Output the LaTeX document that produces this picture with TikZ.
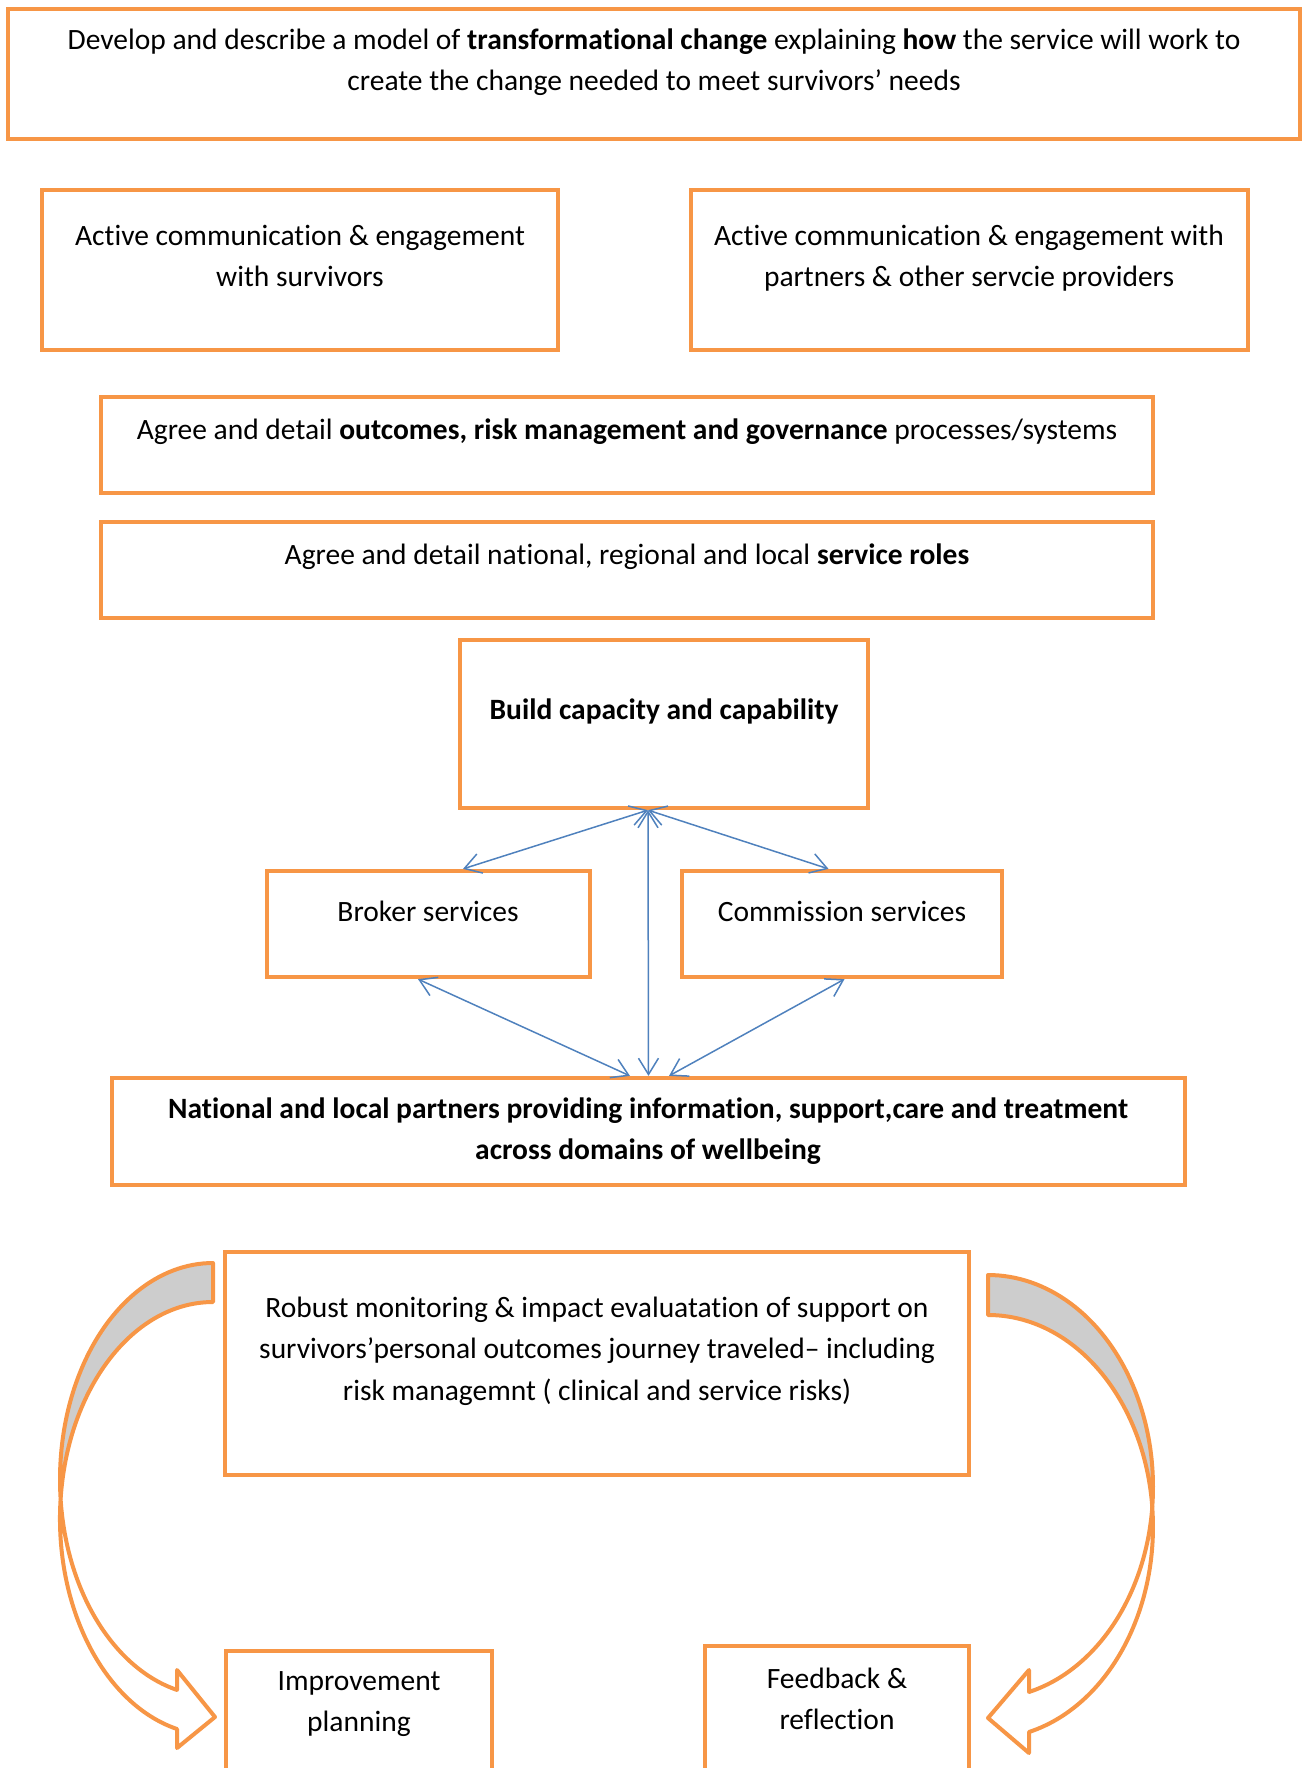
\documentclass[tikz,border=0pt]{standalone}
\usepackage{fontspec}
\setmainfont{Carlito}[Ligatures=NoCommon]
\usetikzlibrary{fit,arrows.meta}

\begin{document}
\begin{tikzpicture}[x=0.4pt, y=0.4pt,
    box/.style={draw=boxOrange, line width=1.7pt, inner sep=0pt},
    txt/.style={align=center, inner sep=0pt, font=\fontsize{11.8}{16.6}\selectfont},
    link/.style={draw=linkBlue, line width=0.6pt,
        {Straight Barb[length=6.5pt,width=8pt]}-{Straight Barb[length=6.5pt,width=8pt]}},
    curvearrow/.style={draw=boxOrange, line width=1.6pt, line join=round}]
    \definecolor{boxOrange}{HTML}{F79646}
    \definecolor{linkBlue}{HTML}{4F81BD}
    \definecolor{curveGray}{HTML}{CDCDCD}

    \def\leftRx{61.2pt}
    \def\leftRy{86.6pt}
    \def\rightRx{66pt}
    \def\rightRy{84.72pt}

    \useasboundingbox (0,0) rectangle (1303,-1768);

    % Draw boxes
    \node[box, fit={(8,-9) (1300,-139)}] (develop) {};
    \node[box, fit={(42,-190) (558,-350)}] (survivors) {};
    \node[box, fit={(691,-190) (1248,-350)}] (partners) {};
    \node[box, fit={(101,-397) (1153,-493)}] (outcomes) {};
    \node[box, fit={(101,-522) (1153,-618)}] (roles) {};
    \node[box, fit={(460,-640) (868,-808)}] (build) {};
    \node[box, fit={(267,-871) (590,-977)}] (broker) {};
    \node[box, fit={(682,-871) (1002,-977)}] (commission) {};
    \node[box, fit={(112,-1078) (1185,-1185)}] (national) {};
    \node[box, fit={(225,-1252) (969,-1475)}] (robust) {};
    \node[box, fit={(226,-1651) (492,-1800)}] (improve) {};
    \node[box, fit={(705,-1646) (969,-1800)}] (feedback) {};

    % Texts in the boxes
    \node[txt] (developText) at (654,-62) {Develop and describe a model of \textbf{transformational change} explaining \textbf{how} the service will work to\\ create the change needed to meet survivors’ needs};
    \node[txt] (survivorsText) at (300,-256) {Active communication \& engagement\\ with survivors};
    \node[txt] (partnersText) at (969,-258) {Active communication \& engagement with\\ partners \& other servcie providers};
    \node[txt] (outcomesText) at (627,-432) {Agree and detail \textbf{outcomes, risk management and governance} processes/systems};
    \node[txt] (rolesText) at (627,-557) {Agree and detail national, regional and local \textbf{service roles}};
    \node[txt] (buildText) at (664,-711) {\textbf{Build capacity and capability}};
    \node[txt] (brokerText) at (428,-911) {Broker services};
    \node[txt] (commissionText) at (842,-911) {Commission services};
    \node[txt] (nationalText) at (648,-1131) {\textbf{National and local partners providing information, support,care and treatment}\\ \textbf{across domains of wellbeing}};
    \node[txt] (robustText) at (597,-1351) {Robust monitoring \& impact evaluatation of support on\\ survivors’personal outcomes journey traveled– including\\ risk managemnt ( clinical and service risks)};
    \node[txt] (improveText) at (359,-1704) {Improvement\\ planning};
    \node[txt] (feedbackText) at (837,-1699) {Feedback \&\\ reflection};

    % Draw links
    \draw[link] ([xshift=-6.4pt]build.south) -- ([xshift=13.8pt]broker.north);
    \draw[link] ([xshift=-6.4pt]build.south) -- ([xshift=-5.4pt]commission.north);
    \draw[link] ([xshift=-6.4pt]build.south) -- (national.north);
    \draw[link] ([xshift=-4.2pt]broker.south) -- ([xshift=-7.4pt]national.north);
    \draw[link] ([xshift=1pt]commission.south) -- ([xshift=8.2pt]national.north);

    % Left curved arrow
    \filldraw[curvearrow, fill=curveGray] (213,-1263)
        arc[start angle=90, end angle=185.17, x radius=\leftRx, y radius=\leftRy]
        arc[start angle=174.83, end angle=90, x radius=\leftRx, y radius=\leftRy] -- cycle;
    \filldraw[curvearrow, fill=white] (60.6,-1499)
        arc[start angle=185.17, end angle=256.4, x radius=\leftRx, y radius=\leftRy]
        -- (177,-1670) -- (215,-1717) -- (177,-1748) -- (177,-1729)
        arc[start angle=256.4, end angle=174.83, x radius=\leftRx, y radius=\leftRy] -- cycle;

    % Right curved arrow
    \filldraw[curvearrow, fill=curveGray] (988,-1275)
        arc[start angle=90, end angle=-5.42, x radius=\rightRx, y radius=\rightRy]
        arc[start angle=5.42, end angle=90, x radius=\rightRx, y radius=\rightRy] -- cycle;
    \filldraw[curvearrow, fill=white] (1152.3,-1506.8)
        arc[start angle=-5.42, end angle=-75.6, x radius=\rightRx, y radius=\rightRy]
        -- (1029,-1670) -- (988,-1718) -- (1029,-1753) -- (1029,-1732)
        arc[start angle=-75.6, end angle=5.42, x radius=\rightRx, y radius=\rightRy] -- cycle;

\end{tikzpicture}
\end{document}
